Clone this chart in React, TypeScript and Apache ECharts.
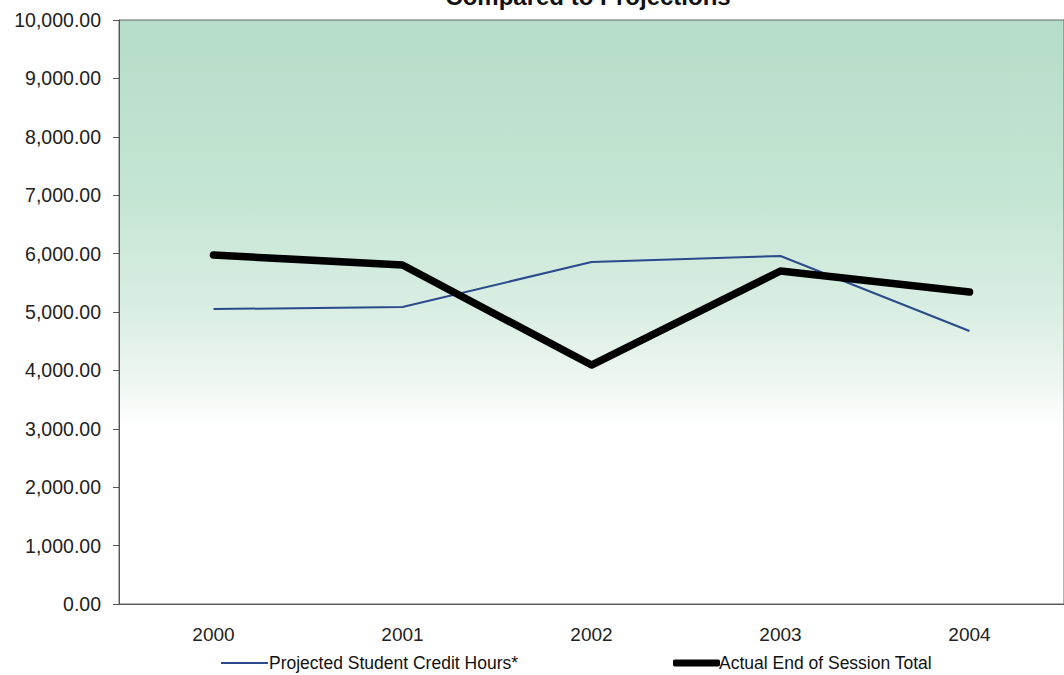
import React, { useEffect, useRef } from "react";
import * as echarts from "echarts";

const years = ["2000", "2001", "2002", "2003", "2004"];
const projected = [5050, 5085, 5856, 5959, 4675];
const actual = [5976, 5805, 4092, 5702, 5342];
const titleText = "Compared to Projections";
const projectedName = "Projected Student Credit Hours*";
const actualName = "Actual End of Session Total";

export default function App() {
  const ref = useRef<HTMLDivElement>(null);
  useEffect(() => {
    if (!ref.current) return;
    const chart = echarts.init(ref.current, null, { renderer: "svg" });
    const font = "'Liberation Sans', Arial, sans-serif";
    chart.setOption({
      animation: false,
      backgroundColor: "#ffffff",
      title: {
        text: titleText,
        left: 583,
        textAlign: "center",
        top: -21,
        textStyle: { fontFamily: font, fontSize: 24, fontWeight: "bold", color: "#111" },
      },
      grid: {
        left: 119,
        top: 20,
        width: 958,
        height: 584,
        show: true,
        borderColor: "#666",
        borderWidth: 1,
        backgroundColor: new echarts.graphic.LinearGradient(0, 0, 0, 1, [
          { offset: 0, color: "#b5ddc9" },
          { offset: 0.3, color: "#c4e5d3" },
          { offset: 0.5, color: "#daeee3" },
          { offset: 0.6, color: "#ebf5ef" },
          { offset: 0.7, color: "#ffffff" },
          { offset: 1, color: "#ffffff" },
        ]),
        containLabel: false,
      },
      legend: [
        {
          left: 216,
          top: 649,
          icon: "rect",
          itemWidth: 47,
          itemHeight: 2,
          textStyle: { fontFamily: font, fontSize: 17.5, color: "#111", padding: [0, 0, 0, -4] },
          data: [{ name: projectedName }],
        },
        {
          left: 668,
          top: 649,
          icon: "roundRect",
          itemWidth: 47,
          itemHeight: 7,
          textStyle: { fontFamily: font, fontSize: 17.5, color: "#111", padding: [0, 0, 0, -6] },
          data: [{ name: actualName }],
        },
      ],
      xAxis: {
        type: "category",
        data: years,
        boundaryGap: true,
        axisLine: { show: true, lineStyle: { color: "#555", width: 1 } },
        axisTick: { show: false },
        axisLabel: { fontFamily: font, fontSize: 19, color: "#222", margin: 21 },
        splitLine: { show: false },
      },
      yAxis: {
        type: "value",
        min: 0,
        max: 10000,
        interval: 1000,
        axisLine: { show: true, lineStyle: { color: "#555", width: 1 } },
        axisTick: { show: true, length: 6, lineStyle: { color: "#555" } },
        axisLabel: {
          fontFamily: font,
          fontSize: 19.5,
          color: "#222",
          margin: 18,
          formatter: (v: number) =>
            v.toLocaleString("en-US", { minimumFractionDigits: 2, maximumFractionDigits: 2 }),
        },
        splitLine: { show: false },
      },
      series: [
        {
          name: projectedName,
          type: "line",
          data: projected,
          symbol: "none",
          lineStyle: { color: "#2a4a8c", width: 2 },
          itemStyle: { color: "#2a4a8c" },
        },
        {
          name: actualName,
          type: "line",
          data: actual,
          symbol: "none",
          lineStyle: { color: "#000000", width: 7.5, cap: "round", join: "round" },
          itemStyle: { color: "#000000" },
        },
      ],
    });
    return () => chart.dispose();
  }, []);
  return <div ref={ref} style={{ width: 1064, height: 675, position: "absolute", left: 0, top: 0 }} />;
}
